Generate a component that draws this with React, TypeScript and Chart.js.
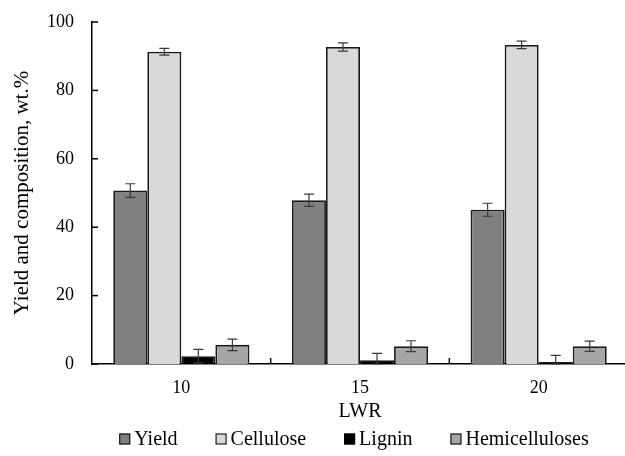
import React, { useEffect, useRef } from "react";
import { Chart, registerables } from "chart.js";

Chart.register(...registerables);

const categories = ["10", "15", "20"];
const seriesNames = ["Yield", "Cellulose", "Lignin", "Hemicelluloses"];
const yieldValues = [50.7, 47.9, 45.1];
const yieldErrors = [2.0, 1.8, 1.9];
const celluloseValues = [91.3, 92.7, 93.3];
const celluloseErrors = [1.0, 1.2, 1.1];
const ligninValues = [2.3, 1.1, 0.6];
const ligninErrors = [2.0, 2.0, 1.9];
const hemiValues = [5.6, 5.2, 5.2];
const hemiErrors = [1.7, 1.6, 1.5];
const seriesColors = ["#808080", "#d9d9d9", "#000000", "#a6a6a6"];
const yTicks = [0, 20, 40, 60, 80, 100];

const FONT = "'Liberation Serif', 'Times New Roman', serif";

const errorBarPlugin = {
  id: "errorBars",
  afterDatasetsDraw(chart: any) {
    const ctx = chart.ctx;
    const yScale = chart.scales.y;
    ctx.save();
    ctx.strokeStyle = "#3a3a3a";
    ctx.lineWidth = 1.2;
    chart.data.datasets.forEach((ds: any, i: number) => {
      const meta = chart.getDatasetMeta(i);
      meta.data.forEach((bar: any, j: number) => {
        const v = ds.data[j];
        const e = ds.errors[j];
        const yTop = yScale.getPixelForValue(v + e);
        const yBot = yScale.getPixelForValue(Math.max(0, v - e));
        const x = bar.x;
        ctx.beginPath();
        ctx.moveTo(x, yTop);
        ctx.lineTo(x, yBot);
        ctx.moveTo(x - 5, yTop);
        ctx.lineTo(x + 5, yTop);
        ctx.moveTo(x - 5, yBot);
        ctx.lineTo(x + 5, yBot);
        ctx.stroke();
      });
    });
    ctx.restore();
  },
};

const innerTicksPlugin = {
  id: "innerTicks",
  afterDraw(chart: any) {
    const ctx = chart.ctx;
    const x = chart.scales.x;
    const y = chart.scales.y;
    const area = chart.chartArea;
    ctx.save();
    ctx.strokeStyle = "#000";
    ctx.lineWidth = 1.5;
    yTicks.forEach((t) => {
      const py = y.getPixelForValue(t);
      ctx.beginPath();
      ctx.moveTo(area.left, py);
      ctx.lineTo(area.left + 6, py);
      ctx.stroke();
    });
    for (let i = 0; i < categories.length - 1; i++) {
      const px = (x.getPixelForTick(i) + x.getPixelForTick(i + 1)) / 2;
      ctx.beginPath();
      ctx.moveTo(px, area.bottom);
      ctx.lineTo(px, area.bottom - 6);
      ctx.stroke();
    }
    ctx.restore();
  },
};

const legendPlugin = {
  id: "customLegend",
  afterDraw(chart: any) {
    const ctx = chart.ctx;
    const box = 11;
    const textGap = 4;
    const itemGap = 38;
    const centerX = 354;
    const centerY = 439;
    ctx.save();
    ctx.font = `20px ${FONT}`;
    ctx.textBaseline = "middle";
    ctx.textAlign = "left";
    const items = chart.data.datasets.map((ds: any) => ({
      label: ds.label,
      color: ds.backgroundColor,
      w: box + textGap + ctx.measureText(ds.label).width,
    }));
    const total = items.reduce((s: number, it: any) => s + it.w, 0) + itemGap * (items.length - 1);
    let x = centerX - total / 2;
    items.forEach((it: any) => {
      ctx.fillStyle = it.color;
      ctx.fillRect(x, centerY - box / 2, box, box);
      ctx.strokeStyle = "#000";
      ctx.lineWidth = 1;
      ctx.strokeRect(x + 0.5, centerY - box / 2 + 0.5, box - 1, box - 1);
      ctx.fillStyle = "#000";
      ctx.fillText(it.label, x + box + textGap, centerY + 1);
      x += it.w + itemGap;
    });
    ctx.restore();
  },
};

export default function App() {
  const ref = useRef<HTMLCanvasElement>(null);
  useEffect(() => {
    if (!ref.current) return;
    const valueSets = [yieldValues, celluloseValues, ligninValues, hemiValues];
    const errorSets = [yieldErrors, celluloseErrors, ligninErrors, hemiErrors];
    const chart = new Chart(ref.current, {
      type: "bar",
      data: {
        labels: categories,
        datasets: seriesNames.map((name, i) => ({
          label: name,
          data: valueSets[i],
          errors: errorSets[i],
          backgroundColor: seriesColors[i],
          borderColor: "#1a1a1a",
          borderWidth: 1.8,
          categoryPercentage: 0.762,
          barPercentage: 1.0,
        })) as any,
      },
      options: {
        animation: false,
        responsive: false,
        maintainAspectRatio: false,
        layout: { padding: { top: 22, left: 0, right: 0, bottom: 0 } },
        plugins: {
          tooltip: { enabled: false },
          legend: { display: false },
        },
        scales: {
          x: {
            grid: { display: false, drawTicks: false },
            border: { display: true, color: "#000", width: 1.5 },
            ticks: { color: "#000", padding: 13, font: { family: FONT, size: 18 } },
            title: {
              display: true,
              text: "LWR",
              color: "#000",
              font: { family: FONT, size: 20 },
              padding: { top: 0, bottom: 32 },
            },
            afterFit: (scale: any) => {
              scale.height = 92;
              scale.paddingLeft = 0;
              scale.paddingRight = 0;
            },
          },
          y: {
            min: 0,
            max: 100,
            grid: { display: false, drawTicks: false },
            border: { display: true, color: "#000", width: 1.5 },
            ticks: { stepSize: 20, color: "#000", padding: 18, font: { family: FONT, size: 18 } },
            title: {
              display: true,
              text: "Yield and composition, wt.%",
              color: "#000",
              font: { family: FONT, size: 21 },
              padding: { top: 10, bottom: 0 },
            },
            afterFit: (scale: any) => {
              scale.width = 92;
              scale.paddingTop = 0;
              scale.paddingBottom = 0;
            },
          },
        },
      },
      plugins: [errorBarPlugin, innerTicksPlugin, legendPlugin],
    } as any);
    return () => chart.destroy();
  }, []);
  return (
    <div style={{ position: "fixed", left: 0, top: 0, width: 628, height: 456, background: "#fff" }}>
      <canvas ref={ref} width={628} height={456} style={{ width: 628, height: 456 }} />
    </div>
  );
}
